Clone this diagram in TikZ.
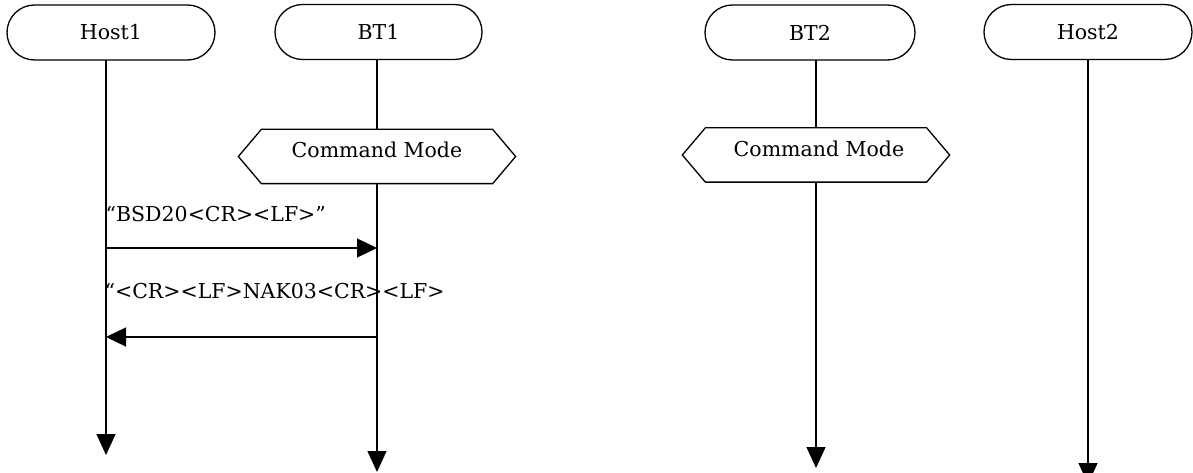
\documentclass[tikz,border=0pt]{standalone}
\usepackage{fontspec}
\setmainfont{DejaVu Serif}
\usetikzlibrary{arrows.meta,shapes.misc}
\begin{document}
\begin{tikzpicture}[x=1pt,y=-1pt,line width=1.3pt,
  txt/.style={font=\fontsize{20.5}{24}\selectfont,inner sep=0pt},
  lanehead/.style={rounded rectangle,draw,minimum width=208pt,minimum height=55pt,
    inner sep=0pt,txt},
  modebox/.style={draw=none,minimum width=276pt,minimum height=53pt,inner sep=0pt},
  lifeline/.style={-{Triangle[length=21pt,width=19pt]}},
  msg/.style={-{Triangle[length=20pt,width=19pt]}}]
\useasboundingbox (0,0) rectangle (1193,473);
\clip (0,0) rectangle (1193,473);

% participants
\node[lanehead] (host1) at (111,32.5) {Host1};
\node[lanehead,minimum width=207pt] (bt1) at (378.5,32) {BT1};
\node[lanehead,minimum width=210pt] (bt2) at (810,32.5) {BT2};
\node[lanehead] (host2) at (1088,32) {Host2};

% lifeline ends
\coordinate (h1top) at (106,60);
\coordinate (h1end) at (106,455);
\coordinate (b1top) at (377,59);
\coordinate (b1end) at (377,472);
\coordinate (b2top) at (816,60);
\coordinate (b2end) at (816,468);
\coordinate (h2top) at (1088,59);
\coordinate (h2end) at (1088,484);

\draw[lifeline] (h1top) -- (h1end);
\draw[lifeline] (b1top) -- (b1end);
\draw[lifeline] (b2top) -- (b2end);
\draw[lifeline] (h2top) -- (h2end);

% command mode states
\node[modebox] (cm1) at (377,156.5) {};
\node[modebox,minimum width=266pt] (cm2) at (816,155) {};
\foreach \m in {cm1,cm2}{
  \filldraw[fill=white]
    (\m.west) -- ([xshift=23pt]\m.north west) -- ([xshift=-23pt]\m.north east)
    -- (\m.east) -- ([xshift=-23pt]\m.south east) -- ([xshift=23pt]\m.south west)
    -- cycle;
}
\node[txt,anchor=base] (cm1t) at (377,158) {Command Mode};
\node[txt,anchor=base] (cm2t) at (819,157) {Command Mode};

% messages
\coordinate (m1s) at (106,248);
\coordinate (m1e) at (377,248);
\coordinate (m2s) at (377,337);
\coordinate (m2e) at (106,337);
\draw[msg] (m1s) -- (m1e);
\draw[msg] (m2s) -- (m2e);
\node[txt,anchor=base west] (l1) at (105,222) {“BSD20<CR><LF>”};
\node[txt,anchor=base west] (l2) at (104,298) {“<CR><LF>NAK03<CR><LF>};
\end{tikzpicture}
\end{document}
